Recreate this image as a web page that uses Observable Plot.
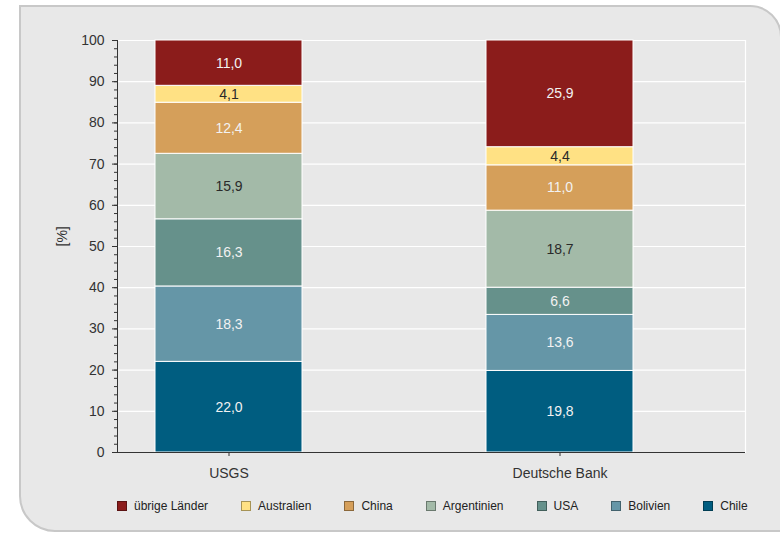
<!DOCTYPE html>
<html><head><meta charset="utf-8">
<script src="https://cdn.jsdelivr.net/npm/d3@7"></script>
<script src="https://cdn.jsdelivr.net/npm/@observablehq/plot@0.6"></script>
<style>
body{margin:0;background:#fff;font-family:"Liberation Sans",Arial,sans-serif;}
#wrap{position:relative;width:780px;height:534px;overflow:hidden;}
#panel{position:absolute;left:19px;top:5px;width:763px;height:527px;background:#e8e8e8;border:2px solid #c8c8c8;border-radius:0 32px 0 36px;box-sizing:border-box;}
#chart{position:absolute;left:0;top:0;}
#legend{position:absolute;left:117px;top:499px;display:flex;gap:33px;font-size:12px;color:#222;white-space:nowrap;}
#legend .item{display:flex;align-items:center;}
#legend .sw{width:8px;height:8px;border:1px solid #444;margin-right:7px;}
</style></head>
<body>
<div id="wrap"><div id="panel"></div><div id="chart"></div><div id="legend"></div></div>
<script>
const sources = ["USGS", "Deutsche Bank"];
const categories = ["Chile", "Bolivien", "USA", "Argentinien", "China", "Australien", "übrige Länder"]; // bottom to top
const colors = ["#005d80", "#6596a7", "#66918b", "#a3baa8", "#d59f5a", "#ffe184", "#8b1c1b"];
const usgs = [22.0, 18.3, 16.3, 15.9, 12.4, 4.1, 11.0];
const deutscheBank = [19.8, 13.6, 6.6, 18.7, 11.0, 4.4, 25.9];
const yTicks = d3.range(0, 101, 10);
const yMinor = d3.range(0, 101, 2);
const darkLabelCats = ["Australien", "Argentinien"];
const legendOrder = ["übrige Länder", "Australien", "China", "Argentinien", "USA", "Bolivien", "Chile"];

const seriesBySource = {"USGS": usgs, "Deutsche Bank": deutscheBank};
const rows = [];
for (const s of sources) categories.forEach((c, i) => rows.push({source: s, category: c, value: seriesBySource[s][i]}));
const fmt = v => v.toFixed(1).replace(".", ",");

const chart = Plot.plot({
  width: 780, height: 490,
  marginLeft: 117, marginRight: 35, marginTop: 40, marginBottom: 38,
  style: {background: "transparent", fontFamily: "Liberation Sans, Arial, sans-serif", fontSize: "14px", color: "#333", overflow: "visible"},
  x: {domain: sources, range: [62.5, 724.5], paddingInner: 0.556, paddingOuter: 0.278, align: 0.5, label: null},
  y: {domain: [0, 100], label: null},
  color: {domain: categories, range: colors},
  marks: [
    Plot.gridY(yTicks, {stroke: "white", strokeOpacity: 1, strokeWidth: 1.2}),
    Plot.frame({anchor: "right", stroke: "white", strokeWidth: 1.2}),
    Plot.barY(rows, {x: "source", y: "value", fill: "category", stroke: "white", strokeWidth: 1}),
    Plot.text(rows, Plot.stackY({x: "source", y: "value", z: "category", text: d => darkLabelCats.includes(d.category) ? "" : fmt(d.value), fill: "#f2f2f2", fontSize: 14})),
    Plot.text(rows, Plot.stackY({x: "source", y: "value", z: "category", text: d => darkLabelCats.includes(d.category) ? fmt(d.value) : "", fill: "#2a2a2a", fontSize: 14})),
    Plot.axisY(yMinor, {tickSize: 3, text: null, stroke: "#333", label: null}),
    Plot.axisY(yTicks, {tickSize: 5, tickPadding: 8, fontSize: 14, fill: "#333", stroke: "#333", label: null}),
    Plot.frame({anchor: "left", stroke: "#333"}),
    Plot.ruleY([0], {stroke: "#333"}),
    Plot.axisX({tickSize: 4, tickPadding: 12, fontSize: 14, fill: "#333", stroke: "#333", label: null}),
    Plot.text(["[%]"], {frameAnchor: "left", dx: -55, rotate: -90, fontSize: 14, fill: "#333"})
  ]
});
document.getElementById("chart").appendChild(chart);

const legend = document.getElementById("legend");
for (const c of legendOrder) {
  const col = colors[categories.indexOf(c)];
  const it = document.createElement("div"); it.className = "item";
  const sw = document.createElement("div"); sw.className = "sw"; sw.style.background = col;
  sw.style.borderColor = d3.color(col).darker(1.2).formatHex();
  const lb = document.createElement("span"); lb.textContent = c;
  it.appendChild(sw); it.appendChild(lb); legend.appendChild(it);
}
</script>
</body></html>
